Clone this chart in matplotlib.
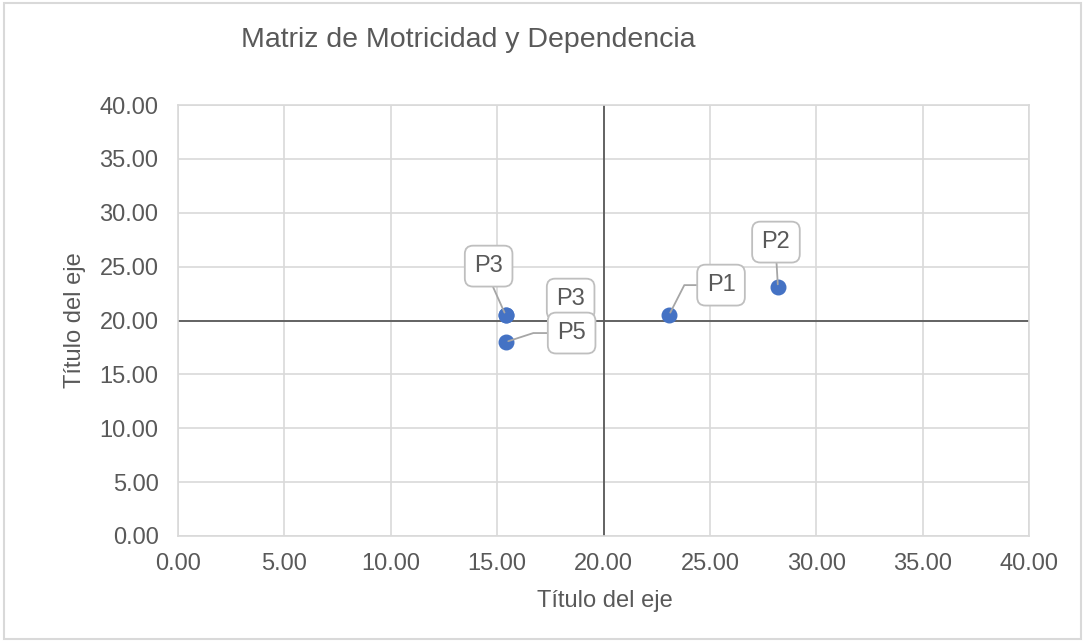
import matplotlib
matplotlib.use("Agg")
import matplotlib.pyplot as plt
from matplotlib.patches import FancyBboxPatch

plt.rcParams['font.family'] = ['Liberation Sans', 'DejaVu Sans']

# Data
labels = ['P1', 'P2', 'P3', 'P3', 'P5']
motricidad = [23.08, 28.20, 15.40, 15.40, 15.40]
dependencia = [20.50, 23.10, 20.50, 20.50, 18.00]
# label offsets in pixels (dx, dy), leader line style (None = hidden)
label_offsets = [(52, 30), (-2, 45), (-17, 49), (65, 16), (66, 9)]
leaders = [('angle,angleA=180,angleB=63,rad=0', (0, 0.5)),
           ('arc3', (0.5, 0)),
           ('arc3', (0.5, 0)),
           None,
           ('angle,angleA=180,angleB=18,rad=0', (0, 0.5))]

grey_text = '#595959'

fig = plt.figure(figsize=(10.85, 6.42), dpi=100)
ax = fig.add_axes([178 / 1085, 1 - 536 / 642, (1029 - 178) / 1085, (536 - 105) / 642])

ax.set_xlim(0, 40)
ax.set_ylim(0, 40)
ticks = [0, 5, 10, 15, 20, 25, 30, 35, 40]
ax.set_xticks(ticks)
ax.set_yticks(ticks)
ax.set_xticklabels(['%.2f' % t for t in ticks])
ax.set_yticklabels(['%.2f' % t for t in ticks])
ax.tick_params(length=0, labelsize=17, colors=grey_text)
ax.tick_params(axis='y', pad=14)
ax.tick_params(axis='x', pad=12)
ax.grid(True, color='#d9d9d9', linewidth=1.2)
ax.set_axisbelow(True)
for s in ax.spines.values():
    s.set_color('#d9d9d9')
    s.set_linewidth(1.2)

# axis crossing lines at 20
ax.axvline(20, color='#595959', linewidth=1.3, zorder=1)
ax.axhline(20, color='#595959', linewidth=1.3, zorder=1)

ax.scatter(motricidad, dependencia, s=110, color='#4472C4', zorder=3)

for lab, x, y, off, lead in zip(labels, motricidad, dependencia, label_offsets, leaders):
    arrow = None
    if lead is not None:
        arrow = dict(arrowstyle='-', color='#a6a6a6', linewidth=1.3, shrinkA=0, shrinkB=2,
                     connectionstyle=lead[0], relpos=lead[1])
    ax.annotate(lab, xy=(x, y), xytext=off, textcoords='offset pixels',
                ha='center', va='center', fontsize=17, color=grey_text, zorder=4,
                bbox=dict(boxstyle='round,pad=0.4,rounding_size=0.35', fc='white',
                          ec='#bfbfbf', lw=1.3),
                arrowprops=arrow)

fig.text(468 / 1085, 1 - 40 / 642, 'Matriz de Motricidad y Dependencia',
         ha='center', va='center', fontsize=20.5, color=grey_text)
fig.text(605 / 1085, 1 - 601 / 642, 'Título del eje',
         ha='center', va='center', fontsize=17, color=grey_text)
fig.text(75 / 1085, 1 - 320 / 642, 'Título del eje', rotation=90,
         ha='center', va='center', fontsize=17, color=grey_text)

# chart border
fig.patches.append(FancyBboxPatch((4 / 1085, 3 / 642), 1 - 8 / 1085, 1 - 6 / 642,
                                  boxstyle='square,pad=0', transform=fig.transFigure,
                                  fc='none', ec='#d9d9d9', lw=1.5))

fig.savefig('out.png', dpi=100)
